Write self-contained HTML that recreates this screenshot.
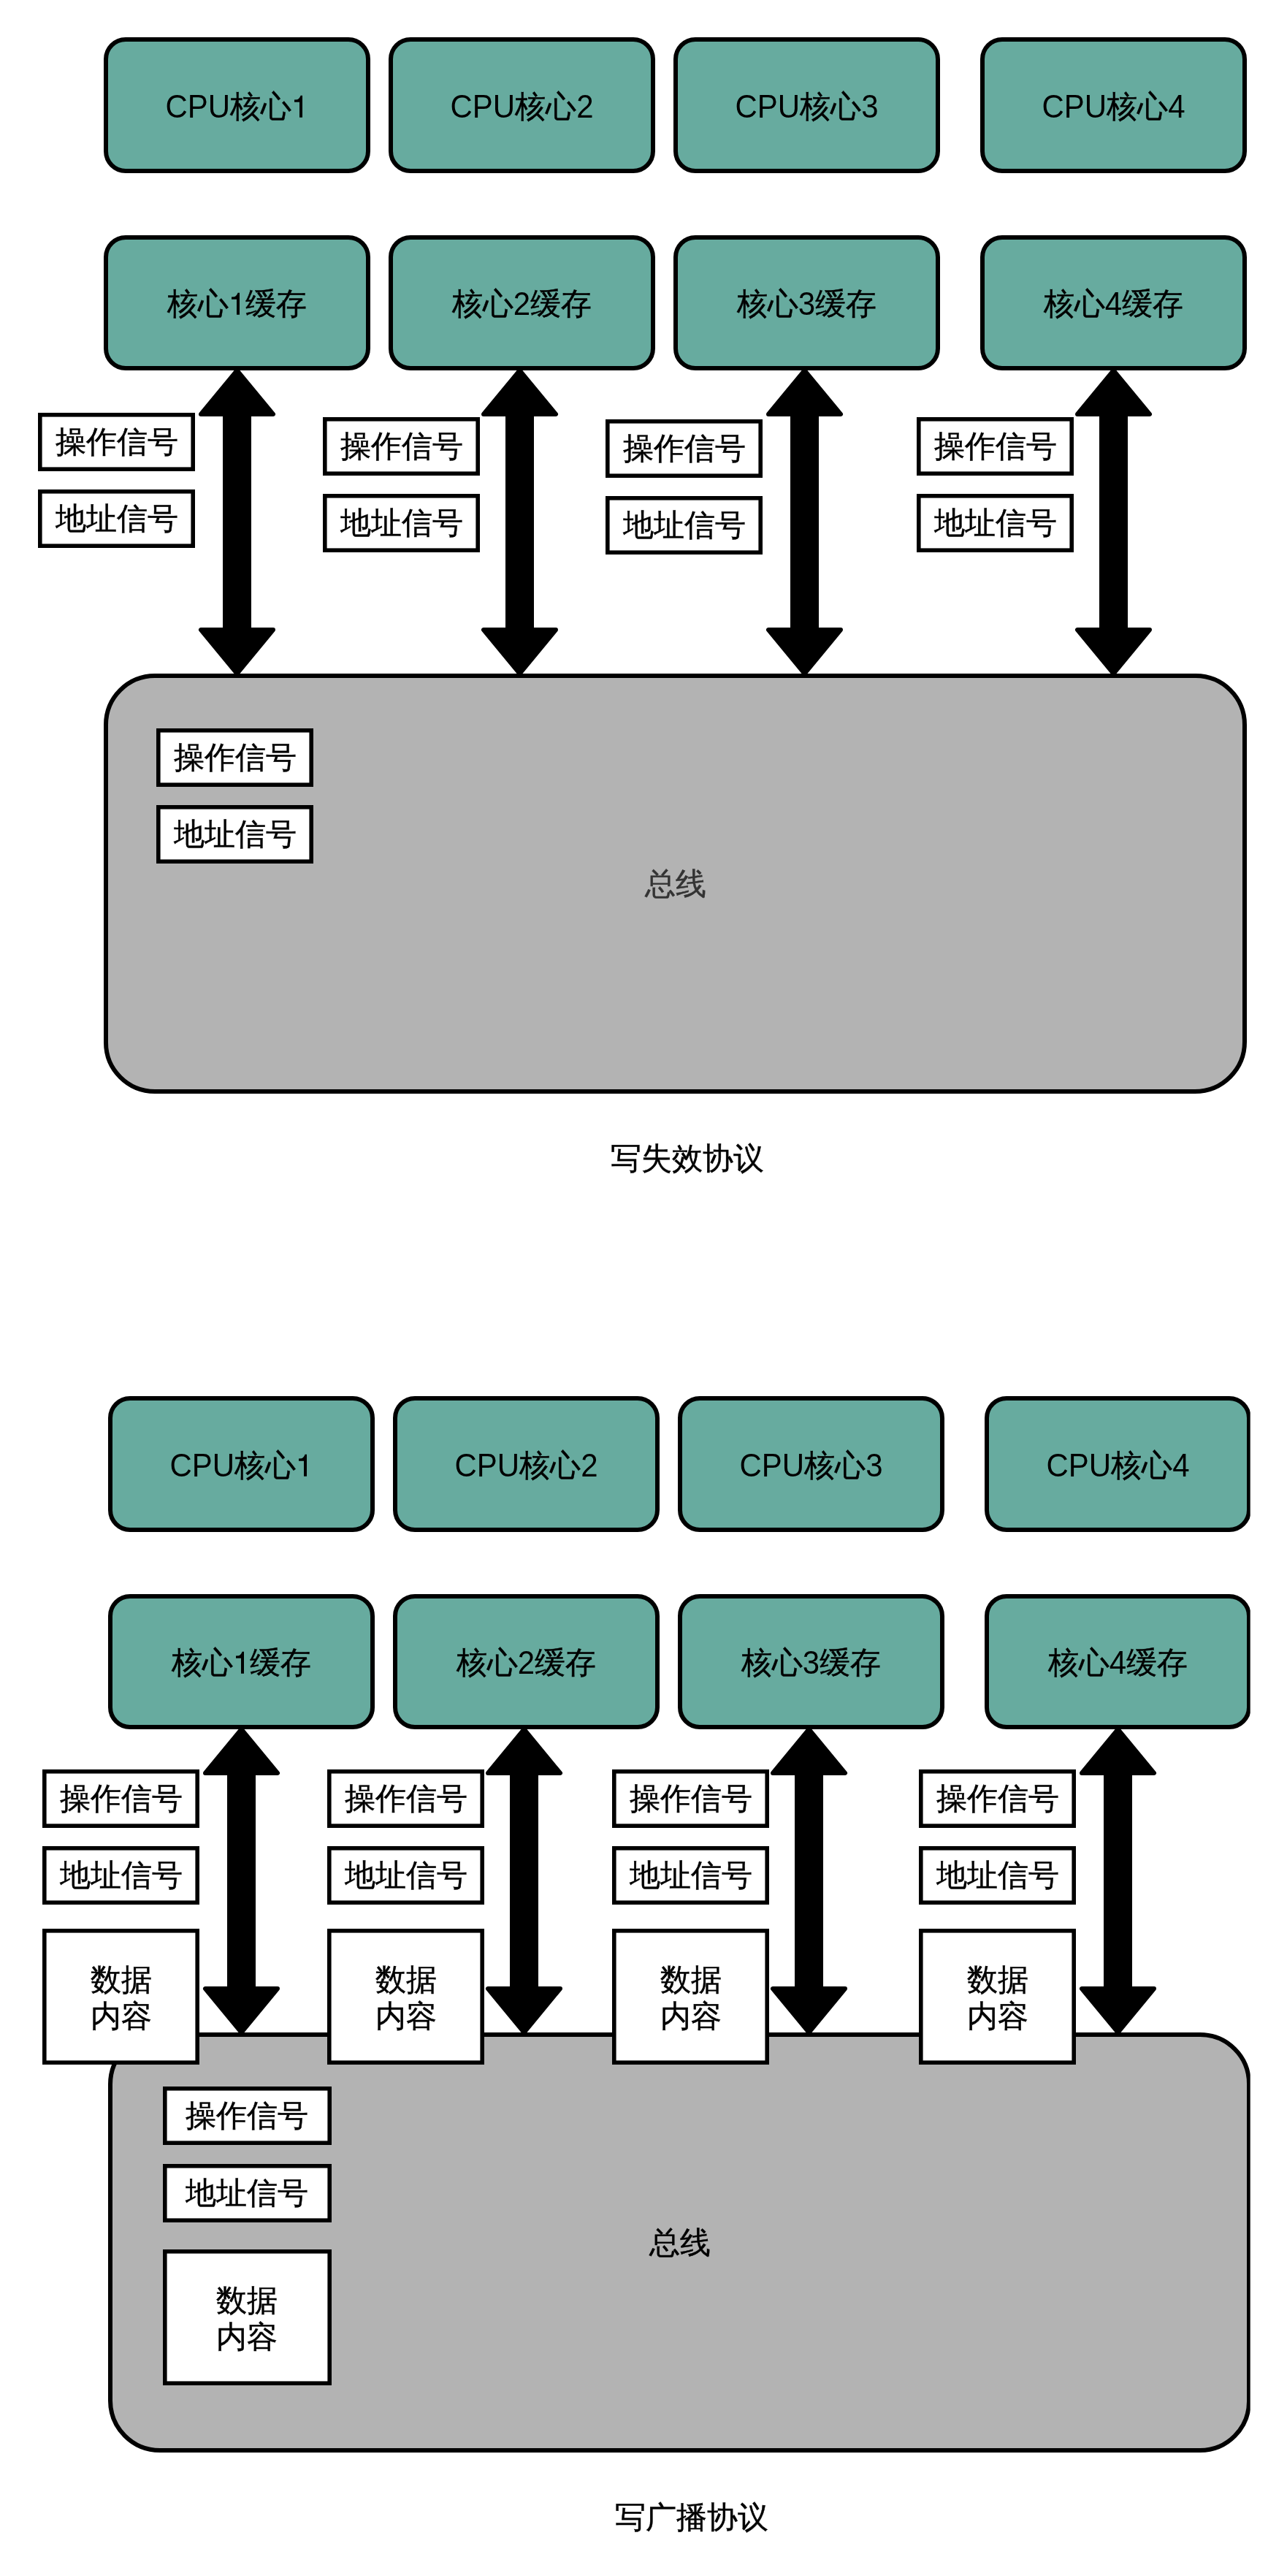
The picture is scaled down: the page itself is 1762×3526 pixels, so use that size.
<!DOCTYPE html>
<html><head><meta charset="utf-8"><style>
html,body{margin:0;padding:0;background:#fff;}
body{width:1762px;height:3526px;position:relative;overflow:hidden;font-family:"Liberation Sans",sans-serif;}
.main{position:absolute;left:0;top:0;}
.l{-webkit-text-stroke:0;display:inline-block;transform:translateY(0.7px) scaleY(1.055);transform-origin:50% 35.6px;}
.one{display:inline-block;width:23.36px;height:32px;position:relative;vertical-align:baseline;}
.one svg{position:absolute;left:0;bottom:-1.2px;}
.t{position:absolute;will-change:transform;-webkit-text-stroke:0.45px currentColor;display:flex;align-items:center;justify-content:center;text-align:center;font-size:42px;line-height:42px;white-space:nowrap;}
</style></head><body>
<svg class="main" width="1762" height="3526" viewBox="0 0 1762 3526">
<rect x="145.0" y="54.0" width="359" height="180" rx="27" ry="27" fill="#67ab9f" stroke="#000" stroke-width="6"/>
<rect x="145.0" y="325.0" width="359" height="179" rx="27" ry="27" fill="#67ab9f" stroke="#000" stroke-width="6"/>
<rect x="535.0" y="54.0" width="359" height="180" rx="27" ry="27" fill="#67ab9f" stroke="#000" stroke-width="6"/>
<rect x="535.0" y="325.0" width="359" height="179" rx="27" ry="27" fill="#67ab9f" stroke="#000" stroke-width="6"/>
<rect x="925.0" y="54.0" width="359" height="180" rx="27" ry="27" fill="#67ab9f" stroke="#000" stroke-width="6"/>
<rect x="925.0" y="325.0" width="359" height="179" rx="27" ry="27" fill="#67ab9f" stroke="#000" stroke-width="6"/>
<rect x="1345.0" y="54.0" width="359" height="180" rx="27" ry="27" fill="#67ab9f" stroke="#000" stroke-width="6"/>
<rect x="1345.0" y="325.0" width="359" height="179" rx="27" ry="27" fill="#67ab9f" stroke="#000" stroke-width="6"/>
<path d="M212.0,925.0 L1637.0,925.0 A67,67 0 0 1 1704.0,992.0 L1704.0,1426.0 A68,68 0 0 1 1636.0,1494.0 L212.0,1494.0 A67,67 0 0 1 145.0,1427.0 L145.0,992.0 A67,67 0 0 1 212.0,925.0 Z" fill="#b3b3b3" stroke="#000" stroke-width="6" stroke-linejoin="round"/>
<polygon points="324.5,507.0 374.0,567.0 341.0,567.0 341.0,862.0 374.0,862.0 324.5,922.0 275.0,862.0 308.0,862.0 308.0,567.0 275.0,567.0" fill="#000" stroke="#000" stroke-width="6" stroke-linejoin="round"/>
<polygon points="711.5,507.0 761.0,567.0 728.0,567.0 728.0,862.0 761.0,862.0 711.5,922.0 662.0,862.0 695.0,862.0 695.0,567.0 662.0,567.0" fill="#000" stroke="#000" stroke-width="6" stroke-linejoin="round"/>
<polygon points="1101.5,507.0 1151.0,567.0 1118.0,567.0 1118.0,862.0 1151.0,862.0 1101.5,922.0 1052.0,862.0 1085.0,862.0 1085.0,567.0 1052.0,567.0" fill="#000" stroke="#000" stroke-width="6" stroke-linejoin="round"/>
<polygon points="1524.5,507.0 1574.0,567.0 1541.0,567.0 1541.0,862.0 1574.0,862.0 1524.5,922.0 1475.0,862.0 1508.0,862.0 1508.0,567.0 1475.0,567.0" fill="#000" stroke="#000" stroke-width="6" stroke-linejoin="round"/>
<rect x="54.8" y="567.8" width="209.4" height="74.4" fill="#fff" stroke="#000" stroke-width="5.6"/>
<rect x="54.8" y="672.8" width="209.4" height="74.4" fill="#fff" stroke="#000" stroke-width="5.6"/>
<rect x="444.8" y="573.8" width="209.4" height="74.4" fill="#fff" stroke="#000" stroke-width="5.6"/>
<rect x="444.8" y="678.8" width="209.4" height="74.4" fill="#fff" stroke="#000" stroke-width="5.6"/>
<rect x="831.8" y="576.8" width="209.4" height="74.4" fill="#fff" stroke="#000" stroke-width="5.6"/>
<rect x="831.8" y="681.8" width="209.4" height="74.4" fill="#fff" stroke="#000" stroke-width="5.6"/>
<rect x="1257.8" y="573.8" width="209.4" height="74.4" fill="#fff" stroke="#000" stroke-width="5.6"/>
<rect x="1257.8" y="678.8" width="209.4" height="74.4" fill="#fff" stroke="#000" stroke-width="5.6"/>
<rect x="216.8" y="999.8" width="209.4" height="74.4" fill="#fff" stroke="#000" stroke-width="5.6"/>
<rect x="216.8" y="1104.8" width="209.4" height="74.4" fill="#fff" stroke="#000" stroke-width="5.6"/>
<rect x="151.0" y="1914.0" width="359" height="180" rx="27" ry="27" fill="#67ab9f" stroke="#000" stroke-width="6"/>
<rect x="151.0" y="2185.0" width="359" height="179" rx="27" ry="27" fill="#67ab9f" stroke="#000" stroke-width="6"/>
<rect x="541.0" y="1914.0" width="359" height="180" rx="27" ry="27" fill="#67ab9f" stroke="#000" stroke-width="6"/>
<rect x="541.0" y="2185.0" width="359" height="179" rx="27" ry="27" fill="#67ab9f" stroke="#000" stroke-width="6"/>
<rect x="931.0" y="1914.0" width="359" height="180" rx="27" ry="27" fill="#67ab9f" stroke="#000" stroke-width="6"/>
<rect x="931.0" y="2185.0" width="359" height="179" rx="27" ry="27" fill="#67ab9f" stroke="#000" stroke-width="6"/>
<rect x="1351.0" y="1914.0" width="359" height="180" rx="27" ry="27" fill="#67ab9f" stroke="#000" stroke-width="6"/>
<rect x="1351.0" y="2185.0" width="359" height="179" rx="27" ry="27" fill="#67ab9f" stroke="#000" stroke-width="6"/>
<path d="M219.0,2785.0 L1643.0,2785.0 A67,67 0 0 1 1710.0,2852.0 L1710.0,3287.0 A67,67 0 0 1 1643.0,3354.0 L219.0,3354.0 A68,68 0 0 1 151.0,3286.0 L151.0,2853.0 A68,68 0 0 1 219.0,2785.0 Z" fill="#b3b3b3" stroke="#000" stroke-width="6" stroke-linejoin="round"/>
<polygon points="330.5,2367.0 380.0,2427.0 347.0,2427.0 347.0,2722.0 380.0,2722.0 330.5,2782.0 281.0,2722.0 314.0,2722.0 314.0,2427.0 281.0,2427.0" fill="#000" stroke="#000" stroke-width="6" stroke-linejoin="round"/>
<polygon points="717.5,2367.0 767.0,2427.0 734.0,2427.0 734.0,2722.0 767.0,2722.0 717.5,2782.0 668.0,2722.0 701.0,2722.0 701.0,2427.0 668.0,2427.0" fill="#000" stroke="#000" stroke-width="6" stroke-linejoin="round"/>
<polygon points="1107.5,2367.0 1157.0,2427.0 1124.0,2427.0 1124.0,2722.0 1157.0,2722.0 1107.5,2782.0 1058.0,2722.0 1091.0,2722.0 1091.0,2427.0 1058.0,2427.0" fill="#000" stroke="#000" stroke-width="6" stroke-linejoin="round"/>
<polygon points="1530.5,2367.0 1580.0,2427.0 1547.0,2427.0 1547.0,2722.0 1580.0,2722.0 1530.5,2782.0 1481.0,2722.0 1514.0,2722.0 1514.0,2427.0 1481.0,2427.0" fill="#000" stroke="#000" stroke-width="6" stroke-linejoin="round"/>
<rect x="60.8" y="2424.8" width="209.4" height="74.4" fill="#fff" stroke="#000" stroke-width="5.6"/>
<rect x="60.8" y="2529.8" width="209.4" height="74.4" fill="#fff" stroke="#000" stroke-width="5.6"/>
<rect x="60.8" y="2642.8" width="209.4" height="180.4" fill="#fff" stroke="#000" stroke-width="5.6"/>
<rect x="450.8" y="2424.8" width="209.4" height="74.4" fill="#fff" stroke="#000" stroke-width="5.6"/>
<rect x="450.8" y="2529.8" width="209.4" height="74.4" fill="#fff" stroke="#000" stroke-width="5.6"/>
<rect x="450.8" y="2642.8" width="209.4" height="180.4" fill="#fff" stroke="#000" stroke-width="5.6"/>
<rect x="840.8" y="2424.8" width="209.4" height="74.4" fill="#fff" stroke="#000" stroke-width="5.6"/>
<rect x="840.8" y="2529.8" width="209.4" height="74.4" fill="#fff" stroke="#000" stroke-width="5.6"/>
<rect x="840.8" y="2642.8" width="209.4" height="180.4" fill="#fff" stroke="#000" stroke-width="5.6"/>
<rect x="1260.8" y="2424.8" width="209.4" height="74.4" fill="#fff" stroke="#000" stroke-width="5.6"/>
<rect x="1260.8" y="2529.8" width="209.4" height="74.4" fill="#fff" stroke="#000" stroke-width="5.6"/>
<rect x="1260.8" y="2642.8" width="209.4" height="180.4" fill="#fff" stroke="#000" stroke-width="5.6"/>
<rect x="225.8" y="2858.8" width="225.4" height="74.4" fill="#fff" stroke="#000" stroke-width="5.6"/>
<rect x="225.8" y="2964.8" width="225.4" height="74.4" fill="#fff" stroke="#000" stroke-width="5.6"/>
<rect x="225.8" y="3081.8" width="225.4" height="180.4" fill="#fff" stroke="#000" stroke-width="5.6"/>
<rect x="1711.7" y="1880" width="60" height="1500" fill="#fff"/>
</svg>
<div class="t" style="left:142px;top:52.5px;width:365px;height:186px;color:#000;"><span><span class="l">CPU</span>核心<span class="l"><span class="one"><svg width="23.36" height="32" viewBox="0 -31 23.36 32"><path d="M4,-22.8 L8,-23.1 C10,-23.5 11.5,-25.8 12.6,-28.3 L15,-28.3 L15,0 L11,0 L11,-19.8 L4,-19.8 Z" fill="currentColor"/></svg></span></span></span></div>
<div class="t" style="left:142px;top:323.3px;width:365px;height:185px;color:#000;"><span>核心<span class="l"><span class="one"><svg width="23.36" height="32" viewBox="0 -31 23.36 32"><path d="M4,-22.8 L8,-23.1 C10,-23.5 11.5,-25.8 12.6,-28.3 L15,-28.3 L15,0 L11,0 L11,-19.8 L4,-19.8 Z" fill="currentColor"/></svg></span></span>缓存</span></div>
<div class="t" style="left:532px;top:52.5px;width:365px;height:186px;color:#000;"><span><span class="l">CPU</span>核心<span class="l">2</span></span></div>
<div class="t" style="left:532px;top:323.3px;width:365px;height:185px;color:#000;"><span>核心<span class="l">2</span>缓存</span></div>
<div class="t" style="left:922px;top:52.5px;width:365px;height:186px;color:#000;"><span><span class="l">CPU</span>核心<span class="l">3</span></span></div>
<div class="t" style="left:922px;top:323.3px;width:365px;height:185px;color:#000;"><span>核心<span class="l">3</span>缓存</span></div>
<div class="t" style="left:1342px;top:52.5px;width:365px;height:186px;color:#000;"><span><span class="l">CPU</span>核心<span class="l">4</span></span></div>
<div class="t" style="left:1342px;top:323.3px;width:365px;height:185px;color:#000;"><span>核心<span class="l">4</span>缓存</span></div>
<div class="t" style="left:142px;top:922px;width:1565px;height:575px;color:#333;"><span>总线</span></div>
<div class="t" style="left:52px;top:565px;width:215px;height:80px;color:#000;"><span>操作信号</span></div>
<div class="t" style="left:52px;top:670px;width:215px;height:80px;color:#000;"><span>地址信号</span></div>
<div class="t" style="left:442px;top:571px;width:215px;height:80px;color:#000;"><span>操作信号</span></div>
<div class="t" style="left:442px;top:676px;width:215px;height:80px;color:#000;"><span>地址信号</span></div>
<div class="t" style="left:829px;top:574px;width:215px;height:80px;color:#000;"><span>操作信号</span></div>
<div class="t" style="left:829px;top:679px;width:215px;height:80px;color:#000;"><span>地址信号</span></div>
<div class="t" style="left:1255px;top:571px;width:215px;height:80px;color:#000;"><span>操作信号</span></div>
<div class="t" style="left:1255px;top:676px;width:215px;height:80px;color:#000;"><span>地址信号</span></div>
<div class="t" style="left:214px;top:997px;width:215px;height:80px;color:#000;"><span>操作信号</span></div>
<div class="t" style="left:214px;top:1102px;width:215px;height:80px;color:#000;"><span>地址信号</span></div>
<div class="t" style="left:790.5px;top:1556px;width:300.0px;height:60px;color:#000;"><span>写失效协议</span></div>
<div class="t" style="left:148px;top:1912.5px;width:365px;height:186px;color:#000;"><span><span class="l">CPU</span>核心<span class="l"><span class="one"><svg width="23.36" height="32" viewBox="0 -31 23.36 32"><path d="M4,-22.8 L8,-23.1 C10,-23.5 11.5,-25.8 12.6,-28.3 L15,-28.3 L15,0 L11,0 L11,-19.8 L4,-19.8 Z" fill="currentColor"/></svg></span></span></span></div>
<div class="t" style="left:148px;top:2183.3px;width:365px;height:185px;color:#000;"><span>核心<span class="l"><span class="one"><svg width="23.36" height="32" viewBox="0 -31 23.36 32"><path d="M4,-22.8 L8,-23.1 C10,-23.5 11.5,-25.8 12.6,-28.3 L15,-28.3 L15,0 L11,0 L11,-19.8 L4,-19.8 Z" fill="currentColor"/></svg></span></span>缓存</span></div>
<div class="t" style="left:538px;top:1912.5px;width:365px;height:186px;color:#000;"><span><span class="l">CPU</span>核心<span class="l">2</span></span></div>
<div class="t" style="left:538px;top:2183.3px;width:365px;height:185px;color:#000;"><span>核心<span class="l">2</span>缓存</span></div>
<div class="t" style="left:928px;top:1912.5px;width:365px;height:186px;color:#000;"><span><span class="l">CPU</span>核心<span class="l">3</span></span></div>
<div class="t" style="left:928px;top:2183.3px;width:365px;height:185px;color:#000;"><span>核心<span class="l">3</span>缓存</span></div>
<div class="t" style="left:1348px;top:1912.5px;width:365px;height:186px;color:#000;"><span><span class="l">CPU</span>核心<span class="l">4</span></span></div>
<div class="t" style="left:1348px;top:2183.3px;width:365px;height:185px;color:#000;"><span>核心<span class="l">4</span>缓存</span></div>
<div class="t" style="left:148px;top:2782px;width:1565px;height:575px;color:#000;"><span>总线</span></div>
<div class="t" style="left:58px;top:2422px;width:215px;height:80px;color:#000;"><span>操作信号</span></div>
<div class="t" style="left:58px;top:2527px;width:215px;height:80px;color:#000;"><span>地址信号</span></div>
<div class="t" style="left:58px;top:2641.5px;width:215px;height:186px;color:#000;line-height:50px;"><span>数据<br>内容</span></div>
<div class="t" style="left:448px;top:2422px;width:215px;height:80px;color:#000;"><span>操作信号</span></div>
<div class="t" style="left:448px;top:2527px;width:215px;height:80px;color:#000;"><span>地址信号</span></div>
<div class="t" style="left:448px;top:2641.5px;width:215px;height:186px;color:#000;line-height:50px;"><span>数据<br>内容</span></div>
<div class="t" style="left:838px;top:2422px;width:215px;height:80px;color:#000;"><span>操作信号</span></div>
<div class="t" style="left:838px;top:2527px;width:215px;height:80px;color:#000;"><span>地址信号</span></div>
<div class="t" style="left:838px;top:2641.5px;width:215px;height:186px;color:#000;line-height:50px;"><span>数据<br>内容</span></div>
<div class="t" style="left:1258px;top:2422px;width:215px;height:80px;color:#000;"><span>操作信号</span></div>
<div class="t" style="left:1258px;top:2527px;width:215px;height:80px;color:#000;"><span>地址信号</span></div>
<div class="t" style="left:1258px;top:2641.5px;width:215px;height:186px;color:#000;line-height:50px;"><span>数据<br>内容</span></div>
<div class="t" style="left:221.5px;top:2856px;width:231px;height:80px;color:#000;"><span>操作信号</span></div>
<div class="t" style="left:221.5px;top:2962px;width:231px;height:80px;color:#000;"><span>地址信号</span></div>
<div class="t" style="left:221.5px;top:3080.5px;width:231px;height:186px;color:#000;line-height:50px;"><span>数据<br>内容</span></div>
<div class="t" style="left:796.5px;top:3416px;width:300.0px;height:60px;color:#000;"><span>写广播协议</span></div>
</body></html>
